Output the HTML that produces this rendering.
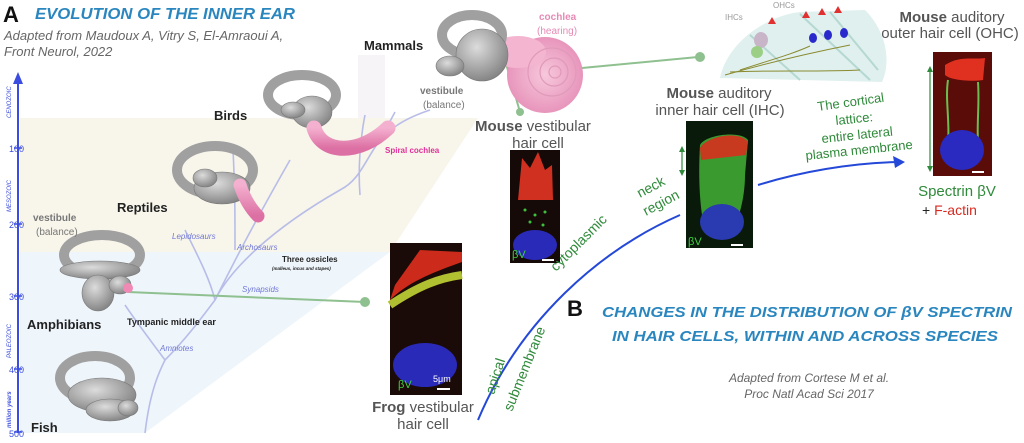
<!DOCTYPE html>
<html><head><meta charset="utf-8"><style>
html,body{margin:0;padding:0;background:#fff;}
svg{display:block;font-family:"Liberation Sans",sans-serif;}
</style></head><body>
<svg width="1024" height="443" viewBox="0 0 1024 443" xmlns="http://www.w3.org/2000/svg">
<defs>
<radialGradient id="g" cx="40%" cy="35%" r="70%"><stop offset="0" stop-color="#dcdcdc"/><stop offset="1" stop-color="#808080"/></radialGradient>
<linearGradient id="pk" x1="0" y1="0" x2="0" y2="1"><stop offset="0" stop-color="#f4b0cf"/><stop offset="1" stop-color="#dc6fa3"/></linearGradient>
<radialGradient id="sp" cx="50%" cy="50%" r="55%"><stop offset="0" stop-color="#f7c8dc"/><stop offset="1" stop-color="#e690b8"/></radialGradient>
</defs>
<polygon points="20,118 478,118 390,252 20,252" fill="#f8f5ea"/>
<polygon points="20,252 390,252 145,433 20,433" fill="#eef5fb"/>
<rect x="358" y="55" width="27" height="63" fill="#f6f4f6"/>
<line x1="18" y1="433" x2="18" y2="80" stroke="#3b4de0" stroke-width="2"/>
<polygon points="18,72 13,84 23,84" fill="#3b4de0"/>
<g stroke="#3b4de0" stroke-width="1.5"><line x1="14" y1="148" x2="22" y2="148"/><line x1="14" y1="224" x2="22" y2="224"/><line x1="14" y1="296" x2="22" y2="296"/><line x1="14" y1="369" x2="22" y2="369"/><line x1="14" y1="432" x2="22" y2="432"/></g>
<g fill="#3b4de0" font-size="9"><text x="9" y="152">100</text><text x="9" y="228">200</text><text x="9" y="300">300</text><text x="9" y="373">400</text><text x="9" y="437">500</text></g>
<g fill="#3b4de0" font-size="6" font-style="italic">
<text transform="translate(11,118) rotate(-90)">CENOZOIC</text>
<text transform="translate(11,212) rotate(-90)">MESOZOIC</text>
<text transform="translate(11,358) rotate(-90)">PALEOZOIC</text>
<text transform="translate(11,428) rotate(-90)" font-weight="bold">million years</text>
</g>
<g stroke="#b8bde8" stroke-width="1.6" fill="none">
<path d="M145,433 C150,390 160,370 165,360 C185,340 200,320 215,300 C230,270 270,230 340,190 C360,180 365,160 380,140 L395,112"/>
<path d="M165,360 C150,340 135,320 125,305"/>
<path d="M215,300 C210,280 200,260 185,230"/>
<path d="M215,300 C230,270 250,230 290,160"/>
<path d="M235,250 C235,210 235,190 233,150"/>
<path d="M360,195 C358,170 360,140 365,115"/>
<path d="M380,140 C390,130 400,120 430,110"/>
</g>
<g stroke="#8fc08f" stroke-width="2" fill="none"><line x1="128" y1="292" x2="365" y2="302"/><line x1="582" y1="68" x2="698" y2="57"/><line x1="505" y1="60" x2="520" y2="112"/></g>
<g fill="#8fc08f"><circle cx="365" cy="302" r="5"/><circle cx="700" cy="57" r="5"/><circle cx="520" cy="112" r="4"/></g>
<circle cx="545" cy="75" r="38" fill="url(#sp)"/>
<ellipse cx="518" cy="52" rx="28" ry="16" fill="#f4b5d0"/>
<g fill="none" stroke="#e09ab9" stroke-width="1.2"><circle cx="552" cy="72" r="24"/><circle cx="554" cy="72" r="14"/><circle cx="555" cy="72" r="6"/></g>
<g fill="url(#g)" stroke="#777" stroke-width="0.6">
<ellipse cx="95" cy="378" rx="35" ry="22" fill="none" stroke="#a0a0a0" stroke-width="10"/>
<ellipse cx="102" cy="395" rx="34" ry="17"/><ellipse cx="110" cy="410" rx="24" ry="11"/><ellipse cx="128" cy="408" rx="10" ry="8"/>
<ellipse cx="102" cy="255" rx="38" ry="20" fill="none" stroke="#a0a0a0" stroke-width="10"/>
<ellipse cx="100" cy="270" rx="40" ry="9"/><ellipse cx="98" cy="293" rx="16" ry="18"/><ellipse cx="120" cy="285" rx="11" ry="9"/>
<ellipse cx="215" cy="170" rx="38" ry="24" fill="none" stroke="#a0a0a0" stroke-width="10"/>
<ellipse cx="222" cy="188" rx="28" ry="16"/><ellipse cx="205" cy="178" rx="12" ry="9"/>
<ellipse cx="302" cy="95" rx="34" ry="20" fill="none" stroke="#a0a0a0" stroke-width="10"/>
<ellipse cx="312" cy="112" rx="20" ry="16"/><ellipse cx="293" cy="110" rx="12" ry="8"/>
<ellipse cx="472" cy="35" rx="30" ry="20" fill="none" stroke="#a0a0a0" stroke-width="10"/>
<ellipse cx="482" cy="55" rx="26" ry="26"/><ellipse cx="450" cy="66" rx="14" ry="10"/>
</g>
<circle cx="128" cy="288" r="5" fill="#f08ab5"/>
<path d="M240,185 C245,200 252,210 258,216" stroke="url(#pk)" stroke-width="13" stroke-linecap="round" fill="none"/>
<path d="M314,128 C322,155 360,155 388,128" stroke="url(#pk)" stroke-width="15" stroke-linecap="round" fill="none"/>
<path d="M720,78 C728,40 770,15 800,12 L865,10 C885,30 892,60 882,82 Z" fill="#dff0ee"/>
<g stroke="#b6d8d2" stroke-width="2" fill="none"><path d="M800,14 L870,80"/><path d="M830,12 L878,70"/><path d="M750,35 L800,80"/></g>
<g fill="#2a2acc"><ellipse cx="813" cy="38" rx="4" ry="5"/><ellipse cx="828" cy="35" rx="4" ry="5"/><ellipse cx="844" cy="33" rx="4" ry="5"/></g>
<g fill="#e03030"><polygon points="768,24 772,17 776,24"/><polygon points="802,18 806,11 810,18"/><polygon points="818,15 822,8 826,15"/><polygon points="834,13 838,6 842,13"/></g>
<ellipse cx="761" cy="40" rx="7" ry="8" fill="#c8b6c8"/><ellipse cx="757" cy="52" rx="6" ry="6" fill="#9ccf86"/>
<g stroke="#8a8a30" stroke-width="1" fill="none"><path d="M725,75 C760,65 800,55 850,45"/><path d="M730,72 C770,70 820,72 860,70"/><path d="M740,70 C770,60 790,55 810,46"/></g>
<rect x="390" y="243" width="72" height="152" fill="#1a0a08"/>
<path d="M390,300 C410,280 440,270 462,262 L462,252 L420,250 L395,285 Z" fill="#cc2a1a"/>
<path d="M390,305 C420,285 440,278 462,275" stroke="#b0c030" stroke-width="8" fill="none"/>
<ellipse cx="425" cy="365" rx="32" ry="22" fill="#2a2ab8"/>
<text x="398" y="388" fill="#3ed03e" font-size="11">βV</text>
<text x="433" y="382" fill="#fff" font-size="9">5μm</text><rect x="437" y="388" width="13" height="2" fill="#fff"/>
<rect x="510" y="150" width="50" height="113" fill="#150a08"/>
<path d="M518,200 L522,158 L530,168 L538,152 L545,170 L552,165 L553,200 Z" fill="#d03020"/>
<g fill="#3ec03e"><circle cx="525" cy="210" r="1.5"/><circle cx="535" cy="215" r="1.5"/><circle cx="545" cy="212" r="1.5"/><circle cx="530" cy="222" r="1.5"/><circle cx="543" cy="225" r="1.5"/></g>
<ellipse cx="535" cy="245" rx="22" ry="15" fill="#2a2ab8"/>
<text x="512" y="258" fill="#3ed03e" font-size="11">βV</text><rect x="542" y="259" width="12" height="2" fill="#fff"/>
<rect x="686" y="121" width="67" height="127" fill="#0a1a0a"/>
<path d="M700,145 C705,135 740,130 748,140 L745,175 C745,195 740,215 735,225 L705,230 C700,210 698,180 700,145 Z" fill="#3a9a30"/>
<path d="M700,148 C706,136 740,130 748,142 L746,155 L701,160 Z" fill="#c83a20"/>
<ellipse cx="722" cy="222" rx="22" ry="18" fill="#2a3ab0"/>
<text x="688" y="245" fill="#3ed03e" font-size="11">βV</text><rect x="731" y="244" width="12" height="2" fill="#fff"/>
<rect x="933" y="52" width="59" height="124" fill="#5a0c08"/>
<path d="M945,65 C960,55 975,60 985,58 L983,80 C970,82 950,80 945,75 Z" fill="#e03020"/>
<g stroke="#6abf50" stroke-width="2" fill="none"><path d="M948,80 C945,100 950,120 948,145"/><path d="M978,82 C980,110 975,130 980,160"/></g>
<ellipse cx="962" cy="150" rx="22" ry="20" fill="#2a2ac0"/><rect x="972" y="171" width="12" height="2" fill="#fff"/>
<g stroke="#2f8a3a" stroke-width="1.2"><line x1="682" y1="150" x2="682" y2="172"/><line x1="930" y1="70" x2="930" y2="168"/></g>
<g fill="#2f8a3a"><polygon points="682,146 679,152 685,152"/><polygon points="682,176 679,170 685,170"/><polygon points="930,66 927,72 933,72"/><polygon points="930,172 927,166 933,166"/></g>
<path d="M478,420 C520,320 600,250 680,215" stroke="#2448d8" stroke-width="2" fill="none"/>
<path d="M758,185 C800,172 850,163 898,162" stroke="#2448d8" stroke-width="2" fill="none"/>
<polygon points="905,162 893,156 895,168" fill="#2448d8"/>
<text x="3" y="22" font-size="22" font-weight="bold" fill="#111">A</text>
<text x="35" y="19" font-size="16" font-weight="bold" font-style="italic" fill="#2a86bf" textLength="260" lengthAdjust="spacingAndGlyphs">EVOLUTION OF THE INNER EAR</text>
<text x="4" y="40" font-size="13" font-style="italic" fill="#666">Adapted from Maudoux A, Vitry S, El-Amraoui A,</text>
<text x="4" y="56" font-size="13" font-style="italic" fill="#666">Front Neurol, 2022</text>
<g font-weight="bold" fill="#222">
<text x="364" y="50" font-size="13">Mammals</text>
<text x="214" y="120" font-size="13">Birds</text>
<text x="117" y="212" font-size="13">Reptiles</text>
<text x="27" y="329" font-size="13">Amphibians</text>
<text x="31" y="432" font-size="13">Fish</text>
<text x="127" y="325" font-size="9">Tympanic middle ear</text>
<text x="282" y="262" font-size="8">Three ossicles</text>
</g>
<text x="272" y="270" font-size="4.5" font-style="italic" font-weight="bold" fill="#222">(malleus, incus and stapes)</text>
<text x="33" y="221" font-size="10" font-weight="bold" fill="#777">vestibule</text>
<text x="36" y="235" font-size="10" fill="#777">(balance)</text>
<text x="420" y="94" font-size="10" font-weight="bold" fill="#777">vestibule</text>
<text x="423" y="108" font-size="10" fill="#777">(balance)</text>
<text x="539" y="20" font-size="10" font-weight="bold" fill="#e58ab5">cochlea</text>
<text x="537" y="34" font-size="10" fill="#e58ab5">(hearing)</text>
<text x="385" y="153" font-size="8" font-weight="bold" fill="#e0309a">Spiral cochlea</text>
<g font-size="8" font-style="italic" fill="#7078d8">
<text x="172" y="239">Lepidosaurs</text><text x="237" y="250">Archosaurs</text><text x="242" y="292">Synapsids</text><text x="160" y="351">Amniotes</text>
</g>
<g fill="#555" font-size="15" text-anchor="middle">
<text x="423" y="412"><tspan font-weight="bold">Frog</tspan> vestibular</text><text x="423" y="429">hair cell</text>
<text x="533" y="131"><tspan font-weight="bold">Mouse</tspan> vestibular</text><text x="538" y="148">hair cell</text>
<text x="719" y="98"><tspan font-weight="bold">Mouse</tspan> auditory</text><text x="720" y="115">inner hair cell (IHC)</text>
<text x="952" y="22"><tspan font-weight="bold">Mouse</tspan> auditory</text><text x="950" y="38">outer hair cell (OHC)</text>
</g>
<text x="725" y="20" font-size="8" fill="#999">IHCs</text>
<text x="773" y="8" font-size="8" fill="#999">OHCs</text>
<g fill="#2f8a3a" font-size="14">
<text x="957" y="196" text-anchor="middle" font-size="15">Spectrin βV</text>
<text transform="translate(494,395) rotate(-72)">apical</text>
<text transform="translate(512,412) rotate(-68)">submembrane</text>
<text transform="translate(556,272) rotate(-45)">cytoplasmic</text>
<text transform="translate(640,198) rotate(-28)">neck</text>
<text transform="translate(646,216) rotate(-28)">region</text>
<g font-size="13"><text transform="translate(818,111) rotate(-8)">The cortical</text><text transform="translate(836,125) rotate(-6)">lattice:</text><text transform="translate(822,143) rotate(-6)">entire lateral</text><text transform="translate(806,160) rotate(-6)">plasma membrane</text></g>
</g>
<text x="922" y="215" font-size="14" fill="#222">+ <tspan fill="#d82a20">F-actin</tspan></text>
<text x="567" y="316" font-size="22" font-weight="bold" fill="#111">B</text>
<text x="602" y="317" font-size="15" font-weight="bold" font-style="italic" fill="#2a86bf" textLength="410" lengthAdjust="spacingAndGlyphs">CHANGES IN THE DISTRIBUTION OF βV SPECTRIN</text>
<text x="612" y="341" font-size="15" font-weight="bold" font-style="italic" fill="#2a86bf" textLength="386" lengthAdjust="spacingAndGlyphs">IN HAIR CELLS, WITHIN AND ACROSS SPECIES</text>
<text x="809" y="382" font-size="12" font-style="italic" fill="#666" text-anchor="middle">Adapted from Cortese M et al.</text>
<text x="809" y="398" font-size="12" font-style="italic" fill="#666" text-anchor="middle">Proc Natl Acad Sci 2017</text>
</svg>
</body></html>
